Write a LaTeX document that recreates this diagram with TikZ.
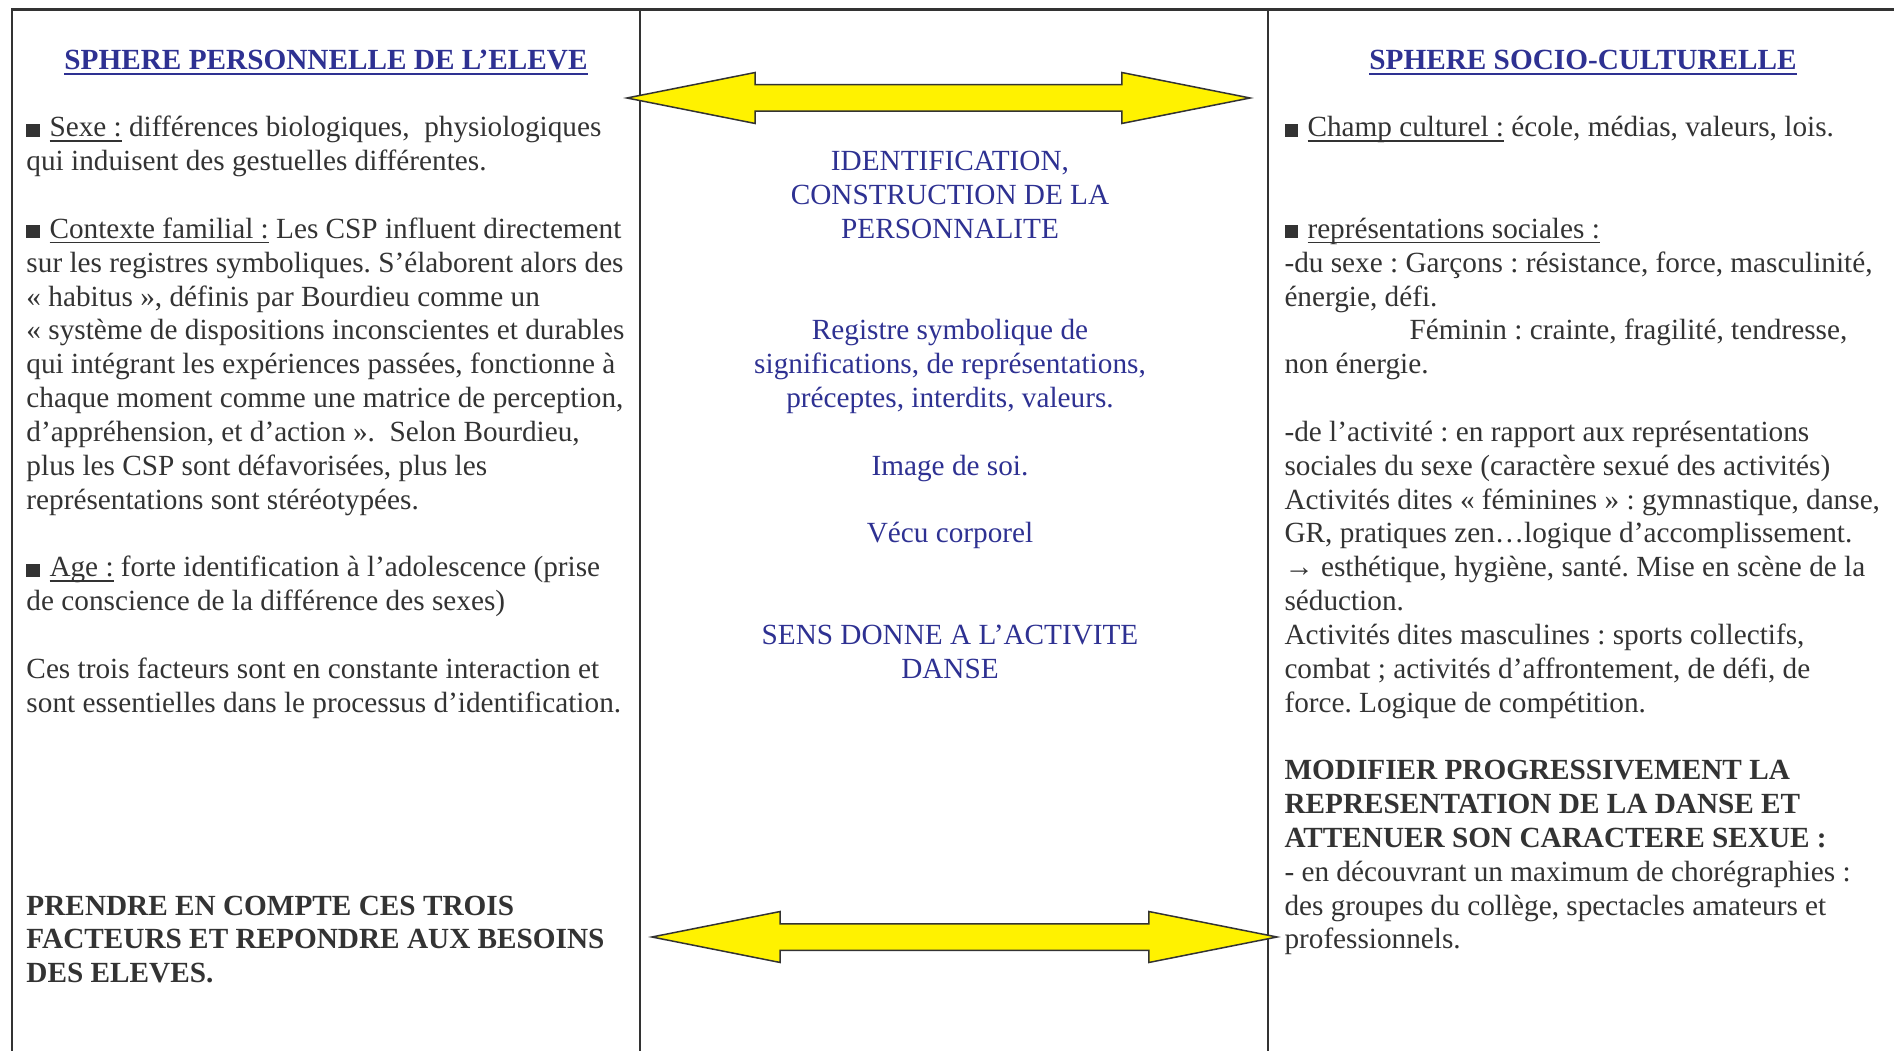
\documentclass[tikz,border=0pt]{standalone}
\usepackage{fontspec}
\setmainfont{Liberation Serif}
\usetikzlibrary{shapes.arrows}
\definecolor{inkgray}{HTML}{333333}
\definecolor{inkblue}{HTML}{2E3192}
\definecolor{arrowyellow}{HTML}{FFF200}
\frenchspacing
\newcommand{\sqbul}{\rule{5.2pt}{5.2pt}\hspace{4pt}}
\newcommand{\ulin}[1]{\setbox0=\hbox{#1}\rlap{\rule[-2pt]{\wd0}{0.6pt}}\box0\relax}
\newcommand{\ulinb}[1]{\setbox0=\hbox{#1}\rlap{\rule[-2.4pt]{\wd0}{1pt}}\box0\relax}
\begin{document}
\begin{tikzpicture}[x=0.4pt,y=0.4pt,
  body/.style={anchor=base west,align=left,text=inkgray},
  boldbody/.style={body,font=\fontsize{11.7pt}{13.53pt}\selectfont\bfseries},
  heading/.style={anchor=base,text=inkblue,font=\fontsize{11.7pt}{13.53pt}\selectfont\bfseries},
  midtext/.style={anchor=base,align=center,text=inkblue},
  bigarrow/.style={double arrow,draw=inkgray,fill=arrowyellow,line width=0.6pt,inner ysep=5pt,
    minimum width=19.8pt,double arrow head extend=4.9pt,double arrow tip angle=22.5}]
\tikzstyle{every node}+=[inner sep=0pt,font=\fontsize{11.7pt}{13.53pt}\selectfont]
\useasboundingbox (0,0) rectangle (1894,-1051);
% frame
\draw [inkgray,line width=1pt] (12,-1051) -- (12,-9.5) -- (1894,-9.5);
\draw [inkgray,line width=1pt] (640,-9.5) -- (640,-1051);
\draw [inkgray,line width=1pt] (1268,-9.5) -- (1268,-1051);
% left column (nodes sit on the baseline of their last line)
\node (persoTitle) [heading] at (326,-69.3) {\ulinb{SPHERE PERSONNELLE DE L’ELEVE}};
\node (sexe) [body] at (26,-170.8) {\sqbul\ulin{Sexe :} différences biologiques,\ \ physiologiques\\
qui induisent des gestuelles différentes.};
\node (contexte) [body] at (26,-509.1) {\sqbul\ulin{Contexte familial :} Les CSP influent directement\\
sur les registres symboliques. S’élaborent alors des\\
« habitus », définis par Bourdieu comme un\\
« système de dispositions inconscientes et durables\\
qui intégrant les expériences passées, fonctionne à\\
chaque moment comme une matrice de perception,\\
d’appréhension, et d’action ».\ \ Selon Bourdieu,\\
plus les CSP sont défavorisées, plus les\\
représentations sont stéréotypées.};
\node (age) [body] at (26,-610.6) {\sqbul\ulin{Age :} forte identification à l’adolescence (prise\\
de conscience de la différence des sexes)};
\node (facteurs) [body] at (26,-712.1) {Ces trois facteurs sont en constante interaction et\\
sont essentielles dans le processus d’identification.};
\node (prendre) [boldbody] at (26,-982.7) {PRENDRE EN COMPTE CES TROIS\\
FACTEURS ET REPONDRE AUX BESOINS\\
DES ELEVES.};
% middle column
\node (ident) [midtext] at (950,-238.5) {IDENTIFICATION,\\ CONSTRUCTION DE LA\\ PERSONNALITE};
\node (registre) [midtext] at (950,-407.6) {Registre symbolique de\\
significations, de représentations,\\ préceptes, interdits, valeurs.};
\node (image) [midtext] at (950,-475.3) {Image de soi.};
\node (vecu) [midtext] at (950,-542.9) {Vécu corporel};
\node (sens) [midtext] at (950,-678.2) {SENS DONNE A L’ACTIVITE\\ DANSE};
% right column
\node (socioTitle) [heading] at (1583,-69.3) {\ulinb{SPHERE SOCIO-CULTURELLE}};
\node (champ) [body] at (1284,-137.0) {\sqbul\ulin{Champ culturel :} école, médias, valeurs, lois.};
\node (repres) [body] at (1284,-373.8) {\sqbul\ulin{représentations sociales :}\\
-du sexe : Garçons : résistance, force, masculinité,\\
énergie, défi.\\
\hspace*{50pt}Féminin : crainte, fragilité, tendresse,\\
non énergie.};
\node (activite) [body] at (1284,-712.1) {-de l’activité : en rapport aux représentations\\
sociales du sexe (caractère sexué des activités)\\
Activités dites « féminines » : gymnastique, danse,\\
GR, pratiques zen…logique d’accomplissement.\\
→ esthétique, hygiène, santé. Mise en scène de la\\
séduction.\\
Activités dites masculines : sports collectifs,\\
combat ; activités d’affrontement, de défi, de\\
force. Logique de compétition.};
\node (modifier) [boldbody] at (1284,-847.4) {MODIFIER PROGRESSIVEMENT LA\\
REPRESENTATION DE LA DANSE ET\\
ATTENUER SON CARACTERE SEXUE :};
\node (decouvrir) [body] at (1284,-948.9) {- en découvrant un maximum de chorégraphies :\\
des groupes du collège, spectacles amateurs et\\
professionnels.};
% arrows
\node (arrTop) [bigarrow,minimum height=249.2pt] at (938.5,-98) {};
\node (arrBot) [bigarrow,minimum height=250pt] at (964.5,-937) {};
\end{tikzpicture}
\end{document}
